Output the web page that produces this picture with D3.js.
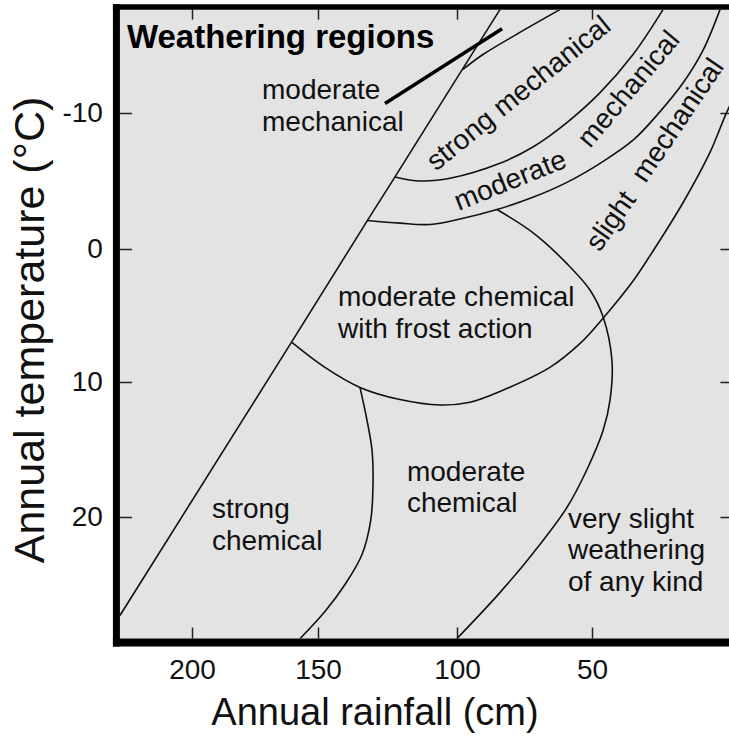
<!DOCTYPE html>
<html>
<head>
<meta charset="utf-8">
<script src="https://cdnjs.cloudflare.com/ajax/libs/d3/7.8.5/d3.min.js"></script>
<style>
body { margin: 0; background: #fff; }
svg { display: block; font-family: "Liberation Sans", Arial, sans-serif; }
</style>
</head>
<body>
<svg width="729" height="738"></svg>
<script>
// Axis ticks
const rainTicks = [200, 150, 100, 50];      // cm, decreasing to the right
const tempTicks = [-10, 0, 10, 20];         // °C, increasing downwards

// Plot extent (rainfall, temperature) as seen in the figure
const rainExtent = [228.6, -2];
const tempExtent = [-17.6, 29];

// Region boundaries, [rainfall cm, temperature °C]
const diagonal = [[228.6, 27.3], [160.5, 7.0], [132.2, -2.1], [122.3, -5.3], [99.3, -12.8], [84.1, -17.6]];
const strongMechTop = [[97.8, -13.2], [90.4, -14.3], [77.8, -15.8], [61.9, -17.6]];
const strongMechBottom = [[122.3, -5.3], [113.3, -5.0], [102.5, -5.2], [84.1, -6.3], [71.9, -7.5], [59.3, -9.3], [47.0, -11.5], [34.8, -14.3], [23.7, -17.6]];
const moderateMechBottom = [[132.2, -2.1], [120.5, -1.9], [109.7, -1.8], [98.9, -2.2], [85.2, -2.9], [71.9, -3.8], [59.3, -4.9], [47.0, -6.3], [34.8, -8.0], [24.8, -10.1], [16.3, -12.2], [8.9, -14.6], [2.6, -17.6]];
const chemicalEdge = [[85.2, -2.9], [71.9, -1.2], [59.3, 1.1], [50.7, 3.1], [45.9, 5.1], [42.6, 8.4], [43.3, 11.3], [45.9, 13.6], [51.9, 16.5], [59.3, 19.3], [71.9, 22.7], [84.1, 25.6], [100, 29]];
const frostEdge = [[160.5, 7.0], [147.5, 8.9], [134.9, 10.4], [120.5, 11.3], [106.1, 11.7], [95.2, 11.5], [84.1, 10.7], [65.6, 8.9], [54.4, 7.1], [45.9, 5.2], [34.8, 2.4], [28.5, 0.5], [16.3, -3.4], [6.3, -7.1], [0.0, -10.1], [-6.7, -12.8]];
const strongChemEdge = [[134.9, 10.4], [132.4, 12.8], [130.6, 15.0], [130.2, 17.3], [131.0, 20.2], [134.2, 22.8], [140.3, 25.0], [147.5, 27.0], [157.1, 29]];
const leader = [[125.9, -10.7], [83.3, -16.2]];

// Region names (anchor = left end of first baseline)
const regionNames = [
  { lines: ["moderate", "mechanical"], at: [172.2, -11.0] },
  { lines: ["moderate chemical", "with frost action"], at: [142.8, 4.3] },
  { lines: ["strong", "chemical"], at: [192.1, 20.1] },
  { lines: ["moderate", "chemical"], at: [118.0, 17.3] },
  { lines: ["very slight", "weathering", "of any kind"], at: [58.9, 20.8] }
];
// Names written along the bands (anchor = centre of word)
const bandNames = [
  { text: "strong mechanical", at: [77.4, -11.5], angle: -39 },
  { text: "moderate", at: [80.4, -5.1], angle: -22 },
  { text: "mechanical", at: [36.7, -11.8], angle: -50 },
  { text: "slight", at: [43.3, -2.1], angle: -55 },
  { text: "mechanical", at: [18.5, -9.5], angle: -56 }
];

let svg = d3.select('svg');

// The scanned axes are not quite evenly spaced, so map tick to tick
let x = d3.scaleLinear().domain(rainTicks).range([192, 318, 457, 592]);
let y = d3.scaleLinear().domain(tempTicks).range([113, 249, 382, 517]);

let plotL = x(rainExtent[0]), plotR = x(rainExtent[1]);
let plotT = y(tempExtent[0]), plotB = y(tempExtent[1]);

// Plot background
svg.append('rect')
	.attr('x', plotL).attr('y', plotT)
	.attr('width', plotR - plotL).attr('height', plotB - plotT)
	.attr('fill', '#e3e3e3');

svg.append('clipPath').attr('id', 'plot')
	.append('rect')
	.attr('x', plotL).attr('y', plotT)
	.attr('width', plotR - plotL).attr('height', plotB - plotT);

// Axes with inward ticks
function styleAxis(g)
{
	g.select('.domain').remove();
	g.selectAll('.tick line').attr('stroke', '#222').attr('stroke-width', 1.5);
	g.selectAll('.tick text').attr('fill', '#111').style('font-size', '28px');
}

let plain = d => String(d); // keep the plain hyphen of the original

svg.append('g')
	.attr('transform', 'translate(' + plotL + ',0)')
	.call(d3.axisLeft(y).tickValues(tempTicks).tickSize(-12).tickPadding(17).tickFormat(plain))
	.call(styleAxis);

svg.append('g')
	.attr('transform', 'translate(' + plotR + ',0)')
	.call(d3.axisRight(y).tickValues(tempTicks).tickSize(-12).tickFormat(''))
	.call(styleAxis);

svg.append('g')
	.attr('transform', 'translate(0,' + plotB + ')')
	.call(d3.axisBottom(x).tickValues(rainTicks).tickSize(-11).tickPadding(21).tickFormat(plain))
	.call(styleAxis);

svg.append('g')
	.attr('transform', 'translate(0,' + plotT + ')')
	.call(d3.axisTop(x).tickValues(rainTicks).tickSize(-10).tickFormat(''))
	.call(styleAxis);

// Boundaries
let smooth = d3.line().x(d => x(d[0])).y(d => y(d[1])).curve(d3.curveCatmullRom.alpha(0.5));
let straight = d3.line().x(d => x(d[0])).y(d => y(d[1]));

let curves = svg.append('g').attr('clip-path', 'url(#plot)')
	.attr('fill', 'none').attr('stroke', '#111').attr('stroke-width', 1.6);

curves.append('path').attr('d', straight(diagonal));
[strongMechTop, strongMechBottom, moderateMechBottom, chemicalEdge, frostEdge, strongChemEdge]
	.forEach(c => curves.append('path').attr('d', smooth(c)));

svg.append('path')
	.attr('d', straight(leader))
	.attr('fill', 'none').attr('stroke', '#000').attr('stroke-width', 3.5);

// Frame: heavy left and bottom, lighter top
svg.append('line')
	.attr('x1', plotL - 3.5).attr('x2', plotL - 3.5)
	.attr('y1', plotT - 5.5).attr('y2', plotB + 8)
	.attr('stroke', '#000').attr('stroke-width', 7);
svg.append('line')
	.attr('x1', plotL - 7).attr('x2', plotR + 5)
	.attr('y1', plotB + 4).attr('y2', plotB + 4)
	.attr('stroke', '#000').attr('stroke-width', 8);
svg.append('line')
	.attr('x1', plotL - 7).attr('x2', plotR + 5)
	.attr('y1', plotT - 2.75).attr('y2', plotT - 2.75)
	.attr('stroke', '#000').attr('stroke-width', 5.5);

// Labels
let labels = svg.append('g').attr('fill', '#111').style('font-size', '28px');

regionNames.forEach(r =>
{
	let t = labels.append('text')
		.attr('x', x(r.at[0])).attr('y', y(r.at[1]));
	r.lines.forEach((s, i) =>
		t.append('tspan').attr('x', x(r.at[0])).attr('dy', i ? 31.5 : 0).text(s));
});

bandNames.forEach(b =>
{
	labels.append('text')
		.attr('transform', 'translate(' + x(b.at[0]) + ',' + y(b.at[1]) + ') rotate(' + b.angle + ')')
		.attr('text-anchor', 'middle')
		.attr('dy', '0.35em')
		.text(b.text);
});

labels.append('text')
	.attr('x', plotL + 7).attr('y', 48)
	.style('font-size', '33px').style('font-weight', 'bold')
	.attr('fill', '#000')
	.text('Weathering regions');

// Axis titles
svg.append('text')
	.attr('x', 375).attr('y', 725)
	.attr('text-anchor', 'middle')
	.style('font-size', '38px').attr('fill', '#111')
	.text('Annual rainfall (cm)');

svg.append('text')
	.attr('transform', 'translate(44,330) rotate(-90)')
	.attr('text-anchor', 'middle')
	.style('font-size', '43px').attr('fill', '#111')
	.text('Annual temperature (°C)');
</script>
</body>
</html>
